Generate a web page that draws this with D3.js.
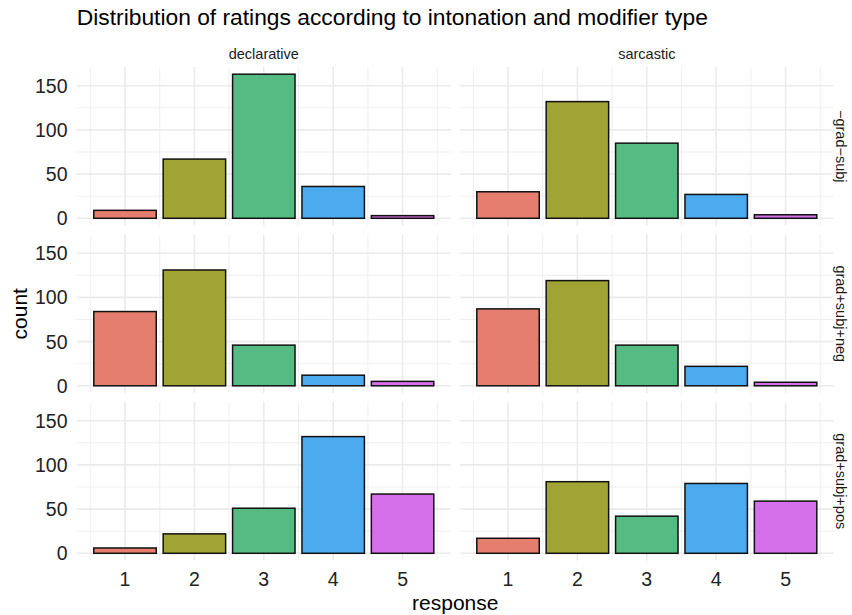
<!DOCTYPE html>
<html><head><meta charset="utf-8">
<script src="https://cdn.jsdelivr.net/npm/d3@7"></script>
<style>body{margin:0;background:#fff;} text{font-family:"Liberation Sans",Arial,sans-serif;}</style>
</head><body><svg id="c" width="852" height="615"></svg>
<script>
const responses = [1, 2, 3, 4, 5];
const intonations = ["declarative", "sarcastic"];
const modifiers = ["\u2212grad\u2212subj", "grad+subj+neg", "grad+subj+pos"];
const colors = ["#E67E70", "#A0A434", "#55BB83", "#4CAAEE", "#D670EA"];
// counts per modifier row, per intonation column, for responses 1..5
const declNoGrad = [9, 67, 163, 36, 3];
const sarcNoGrad = [30, 132, 85, 27, 4];
const declNeg = [84, 131, 46, 12, 5];
const sarcNeg = [87, 119, 46, 22, 4];
const declPos = [6, 22, 51, 132, 67];
const sarcPos = [17, 81, 42, 79, 59];
const counts = [[declNoGrad, sarcNoGrad], [declNeg, sarcNeg], [declPos, sarcPos]];
const yTicks = [0, 50, 100, 150];
const yMinor = [25, 75, 125];

const svg = d3.select("#c");
const colX = [[76.8, 450.8], [459.8, 833.8]];
const rowY = [[67, 225.5], [234.5, 393], [402, 560.5]];
const ymax = d3.max(counts.flat(2));
const pad = ymax * 0.05;

// title (aligned to panel left)
svg.append("text").attr("x", colX[0][0]).attr("y", 24.5).attr("font-size", 22.8).attr("fill", "#000")
  .text("Distribution of ratings according to intonation and modifier type");

intonations.forEach((name, c) => {
  svg.append("text").attr("x", (colX[c][0] + colX[c][1]) / 2).attr("y", 59.3)
    .attr("text-anchor", "middle").attr("font-size", 14.5).attr("fill", "#1a1a1a").text(name);
});
modifiers.forEach((name, r) => {
  const cy = (rowY[r][0] + rowY[r][1]) / 2;
  svg.append("text").attr("transform", `translate(836,${cy}) rotate(90)`)
    .attr("text-anchor", "middle").attr("font-size", 14.5).attr("fill", "#1a1a1a").text(name);
});

rowY.forEach((ry, r) => {
  const y = d3.scaleLinear().domain([-pad, ymax + pad]).range([ry[1], ry[0]]);
  colX.forEach((cx, c) => {
    const x = d3.scaleLinear().domain([0.55 - 0.245, 5.45 + 0.245]).range([cx[0], cx[1]]);
    const g = svg.append("g");
    // minor grid
    yMinor.forEach(v => g.append("line").attr("x1", cx[0]).attr("x2", cx[1]).attr("y1", y(v)).attr("y2", y(v))
      .attr("stroke", "#EBEBEB").attr("stroke-width", 0.8));
    d3.range(0.5, 6, 1).forEach(v => g.append("line").attr("y1", ry[0]).attr("y2", ry[1]).attr("x1", x(v)).attr("x2", x(v))
      .attr("stroke", "#EBEBEB").attr("stroke-width", 0.8));
    // major grid
    yTicks.forEach(v => g.append("line").attr("x1", cx[0]).attr("x2", cx[1]).attr("y1", y(v)).attr("y2", y(v))
      .attr("stroke", "#EBEBEB").attr("stroke-width", 1.6));
    responses.forEach(v => g.append("line").attr("y1", ry[0]).attr("y2", ry[1]).attr("x1", x(v)).attr("x2", x(v))
      .attr("stroke", "#EBEBEB").attr("stroke-width", 1.6));
    // bars
    g.selectAll("rect").data(counts[r][c]).join("rect")
      .attr("x", (d, i) => x(responses[i] - 0.45))
      .attr("width", (d, i) => x(responses[i] + 0.45) - x(responses[i] - 0.45))
      .attr("y", d => y(d)).attr("height", d => y(0) - y(d))
      .attr("fill", (d, i) => colors[i]).attr("stroke", "#111").attr("stroke-width", 1.5);
    // y axis labels
    if (c === 0) {
      yTicks.forEach(v => svg.append("text").attr("x", 67.5).attr("y", y(v)).attr("dy", "0.36em")
        .attr("text-anchor", "end").attr("font-size", 19.5).attr("fill", "#222").text(v));
    }
    if (r === 2) {
      responses.forEach(v => svg.append("text").attr("x", x(v)).attr("y", 585.5)
        .attr("text-anchor", "middle").attr("font-size", 19.5).attr("fill", "#222").text(v));
    }
  });
});

svg.append("text").attr("x", (colX[0][0] + colX[1][1]) / 2).attr("y", 609.5).attr("text-anchor", "middle")
  .attr("font-size", 21).attr("fill", "#000").text("response");
svg.append("text").attr("transform", `translate(27,${(rowY[0][0] + rowY[2][1]) / 2}) rotate(-90)`)
  .attr("text-anchor", "middle").attr("font-size", 21).attr("fill", "#000").text("count");
</script></body></html>
